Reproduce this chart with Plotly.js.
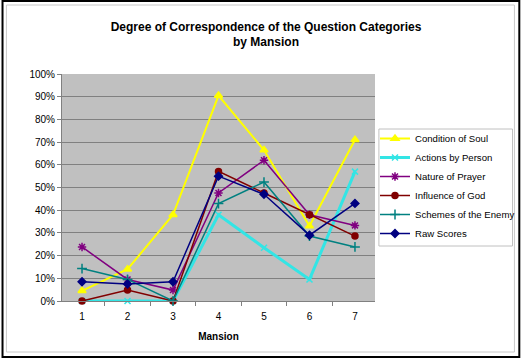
<!DOCTYPE html>
<html>
<head>
<meta charset="utf-8">
<script src="https://cdn.plot.ly/plotly-3.0.1.min.js"></script>
<style>html,body{margin:0;padding:0;background:#fff;}#chart{width:532px;height:359px;}</style>
</head>
<body>
<div id="chart"></div>
<script>
var mansions = ['1','2','3','4','5','6','7'];
var conditionOfSoul   = [0.045, 0.14, 0.38, 0.905, 0.665, 0.33, 0.71];
var actionsByPerson   = [0.0, 0.0, 0.0, 0.38, 0.235, 0.095, 0.57];
var natureOfPrayer    = [0.238, 0.095, 0.048, 0.476, 0.62, 0.38, 0.333];
var influenceOfGod    = [0.0, 0.048, 0.0, 0.571, 0.476, 0.38, 0.286];
var schemesOfEnemy    = [0.143, 0.095, 0.0, 0.429, 0.524, 0.286, 0.238];
var rawScores         = [0.085, 0.075, 0.085, 0.55, 0.47, 0.29, 0.43];
var yTickVals = [0,0.1,0.2,0.3,0.4,0.5,0.6,0.7,0.8,0.9,1.0];
var yTickText = ['0%','10%','20%','30%','40%','50%','60%','70%','80%','90%','100%'];

var FONT = 'Liberation Sans, Arial, sans-serif';
function tr(name, y, color, width, symbol, size) {
  var m = {symbol: symbol, size: size, color: color, line: {color: color, width: 1.5}};
  return {x: mansions, y: y, name: name, type: 'scatter', mode: 'lines+markers',
    line: {color: color, width: width}, marker: m, cliponaxis: false};
}
var data = [
  tr('Condition of Soul', conditionOfSoul, '#FFFF00', 2, 'triangle-up', 7),
  tr('Actions by Person', actionsByPerson, '#33E5E5', 3, 'x-thin-open', 6),
  tr('Nature of Prayer', natureOfPrayer, '#800080', 1.5, 'asterisk-open', 7),
  tr('Influence of God', influenceOfGod, '#800000', 1.5, 'circle', 6),
  tr('Schemes of the Enemy', schemesOfEnemy, '#008080', 1.5, 'cross-thin-open', 7),
  tr('Raw Scores', rawScores, '#000080', 1.5, 'diamond', 6)
];

function px(p){ return (p-62)/321; }
function py(p){ return (301-p)/227; }

var layout = {
  width: 532, height: 359,
  margin: {l: 62, r: 149, t: 74, b: 58},
  paper_bgcolor: '#ffffff',
  plot_bgcolor: '#c0c0c0',
  font: {family: FONT, size: 10, color: '#000'},
  title: {text: 'Degree of Correspondence of the Question Categories<br>by Mansion',
    font: {family: FONT, size: 12, weight: 'bold', color: '#000'},
    x: 0.5, xref: 'container', y: (359-30.5)/359, yref: 'container', yanchor: 'middle'},
  xaxis: {type: 'category', categoryorder: 'array', categoryarray: mansions,
    tickson: 'boundaries', ticks: 'outside', ticklen: 4, tickcolor: '#808080',
    showgrid: false, showline: true, linecolor: '#808080', linewidth: 1,
    zeroline: false, ticklabelstandoff: 6,
    tickfont: {family: FONT, size: 10},
    title: {text: 'Mansion', font: {family: FONT, size: 10, weight: 'bold'}, standoff: 11}},
  yaxis: {range: [0, 1], tickvals: yTickVals, ticktext: yTickText,
    ticks: 'outside', ticklen: 4, tickcolor: '#808080',
    showgrid: true, gridcolor: '#808080', gridwidth: 1,
    showline: true, linecolor: '#808080', zeroline: false,
    tickfont: {family: FONT, size: 10}},
  showlegend: true,
  legend: {x: px(383), y: py(124), xanchor: 'left', yanchor: 'top',
    bgcolor: 'rgba(0,0,0,0)', borderwidth: 0,
    font: {family: FONT, size: 9.6}, tracegroupgap: 0, itemwidth: 30},
  shapes: [
    {type: 'rect', xref: 'paper', yref: 'paper', x0: px(387), x1: px(524), y0: py(246), y1: py(129),
      fillcolor: '#ffffff', line: {color: '#c0c0c0', width: 1}, layer: 'below'},
    {type: 'rect', xref: 'paper', yref: 'paper', x0: px(1), x1: px(531), y0: py(357), y1: py(1),
      line: {color: '#000', width: 2}, layer: 'above'},
    {type: 'rect', xref: 'paper', yref: 'paper', x0: px(5), x1: px(526), y0: py(352), y1: py(5),
      line: {color: '#c8c8c8', width: 1}, layer: 'above'}
  ]
};
Plotly.newPlot('chart', data, layout, {displayModeBar: false, staticPlot: true});
</script>
</body>
</html>
